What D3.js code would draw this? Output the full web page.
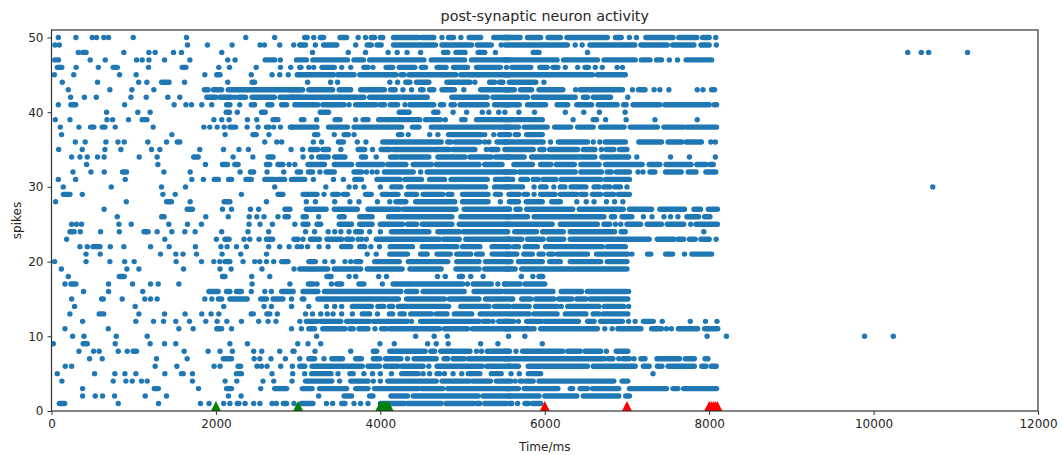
<!DOCTYPE html>
<html>
<head>
<meta charset="utf-8">
<script src="https://cdn.jsdelivr.net/npm/d3@7"></script>
<style>
  html, body { margin: 0; padding: 0; background: #fff; }
  svg { display: block; }
  text { font-family: "DejaVu Sans", sans-serif; fill: #262626; }
</style>
</head>
<body>
<svg id="svg" width="1062" height="455"></svg>
<script>
const w = 1062;
const h = 455;
const margin = { left: 51.5, right: 24, top: 30, bottom: 44 };

const xTicks = [0, 2000, 4000, 6000, 8000, 10000, 12000];
const yTicks = [0, 10, 20, 30, 40, 50];

const excitatoryTimes = [2000, 3000, 4000, 4025, 4050, 4075, 4100];
const inhibitoryTimes = [6000, 7000, 8000, 8025, 8050, 8075, 8100];

// Spike times per neuron.
// A number is one spike, a [start, end] pair is a run of merged spikes.
const n1 = [[95,160],812,1302,1812,1917,2095,2170,[2260,2280],2355,2460,2535,2683,2735,[2820,2860],2950,[3040,3180],3345,3420,[3530,3570],3680,3760,3850,[4000,4290],[4330,4740],[4800,5130],[5170,5210],[5270,5530],[5570,5600],5670,[5760,5800],[5850,5950]];
const n2 = [378,532,621,767,1140,1399,2152,2306,3250,[3560,3650],[3870,3910],[4130,4330],[4400,5190],[5250,5570],[5570,5930],[6000,6390],[6470,6900],[6985,7030]];
const n3 = [378,[1250,1300],1788,[2130,2190],2545,[2715,2860],[3050,3170],[3260,3590],[3700,3850],[3930,4460],[4500,4760],[4820,5570],[5530,5680],[5750,6160],[6310,6340],[6430,6520],[6580,6900],[7030,7480],[7560,7620],[7690,8090]];
const n4 = [127,751,905,982,1095,1164,1715,2112,2254,2573,2703,2926,[3090,3410],3505,[3640,3850],3915,4000,[4090,4680],[4750,5080],[5120,5340],[5410,5590],5640,[5700,5730],[5770,5860],[5930,6840],[6940,7010]];
const n5 = [70,524,771,893,1026,1379,[1581,1602],1715,[2250,2310],2683,2934,3080,[3165,3400],3485,[3630,3670],3800,3905,4000,4135,[4260,4460],4520,4600,[4690,4720],4780,4885,4990,[5070,5210],[5350,5470],5590,5690,[5800,5950],7317];
const n6 = [168,245,1261,1525,1978,2051,[2270,2300],2500,2555,2622,2788,2930,[3020,3080],[3170,3570],[3600,3780],[3850,3990],[4060,4215],[4260,4520],4590,[4690,5240],[5295,5570],[5560,5680],[5800,6520],[6590,7100],[7200,7270],[7370,7425],[7500,7820],[7910,7960],[8025,8085]];
const n7 = [463,617,1277,1650,[2090,2190],2465,2535,2670,2845,3020,[3130,3200],3315,[3410,3540],[3700,3770],[3915,3995],[4065,4250],4330,[4410,4680],[4775,4820],[4885,5020],[5070,5570],[5515,6725],[6770,6830],6900,[6950,7030],7085,[7170,7220],[7365,7640],[7710,7820],[7950,7985]];
const n8 = [334,512,580,812,921,[994,1034],1614,1905,2051,2200,2460,2557,2776,2938,2950,3205,3640,[3915,3955],[4115,4545],[4615,4660],[4735,5090],5170,5230,[5300,5570],[5515,5560],5650,[5730,6220],[6280,6430],[6490,6680],6750,[6870,7010]];
const n9 = [22,[385,435],775,1200,1375,1512,2170,2383,2995,3120,3275,3995,4170,4575,4680,4825,5220,5430,5970];
const n10 = [257,395,788,1164,3225,4430,4655,4815,5560,5758,7975,8210,9890,10240];
const n11 = [164,690,1549,1723,[2010,2070],2190,2920,3040,[3130,3200],[3300,3570],[3630,3670],[3740,3850],3935,[4015,4070],[4115,4720],[4780,5060],[5120,5570],[5515,5870],[5950,6640],6730,6820,[6890,7170],[7300,7420],7480,7540,[7625,7860],[7945,8105]];
const n12 = [378,1026,1241,1363,1512,1678,1877,2015,2133,2310,2520,2635,2730,3020,[3100,3230],[3270,3520],[3590,3870],[3920,4330],4380,[4490,5200],[5250,5320],5370,[5440,5570],[5515,5620],5680,[5780,5960],[6000,6410],[6520,6600],[6680,6945],7020,7100,[7200,7320],7430,7770,7955,8095];
const n13 = [224,[580,635],1063,1375,1625,1828,1941,2035,[2430,2455],[2620,2655],2747,3090,3175,3275,3355,3425,3530,3660,[3780,3870],3965,[4110,4150],[4240,4290],[4370,4620],[4680,4810],[4900,5110],[5215,5570],[5590,5810],[5870,6150],[6250,6500],[6590,6660],[6710,7010]];
const n14 = [281,1018,2095,2585,2675,2920,3130,3345,3445,3530,[3660,3890],3970,[4000,4040],[4110,4150],[4220,4830],[4980,5320],[5390,5570],[5620,5810],[5890,6150],6200,[6280,6660],[6725,6960],7020];
const n15 = [245,[610,630],860,1135,1205,1285,1865,1950,[2030,2070],[2170,2380],[2545,2615],[2695,2815],2920,[3050,3070],[3240,4220],[4320,4780],[4840,5200],[5280,5530],[5560,5610],[5720,5830],[5890,6110],[6170,6330],[6390,6500],[6550,7010]];
const n16 = [390,694,1110,[1915,2027],[2130,2170],[2250,2310],2430,2595,2675,[2800,2940],[3060,3240],[3320,4250],[4320,4440],[4520,5020],[5140,5470],[5515,6100],[6200,6450],[6520,6990],7020];
const n17 = [164,[237,297],694,986,1205,1298,1549,2440,2900,[3125,3185],3230,3405,[3470,3530],[3740,3800],4025,[4155,4400],[4430,5000],5060,[5130,5350],5430,5510,[5515,5700],[5760,6000]];
const n18 = [205,[825,885],[2080,2110],2435,2655,[3350,3400],3620,3700,3980,4075,4695,4790,[4960,5000],5100,5250,5715,5855,[5930,5975]];
const n19 = [120,917,1063,1606,2050,2185,2560,2950,[3020,3360],[3440,3760],[3840,4265],[4360,4740],[4920,5200],[5270,5570],[5530,5640],[5720,7000]];
const n20 = [38,420,710,890,1006,1516,1824,1974,2047,[2110,2170],2330,2472,2533,2615,2703,[2800,2877],[3130,3210],3325,3425,3570,3640,[3700,3760],[3930,4230],[4340,4820],[4930,5200],[5280,5570],[5530,5590],[5680,5970],[6060,6190],[6310,6680],[6760,7000]];
const n21 = [420,593,1326,1512,1600,1764,2075,2302,2615,3840,3950,[4115,4330],[4490,4570],[4690,4850],[4930,5100],[5170,5240],[5360,5570],[5530,5660],[5745,5850],[5930,5980],[6050,6100],[6150,6520],[6630,7010],7060,[7250,7290],[7470,7555],7700,[7790,8030]];
const n22 = [346,435,[505,590],715,880,1205,1431,1751,2060,2136,2250,2370,2642,2776,2890,2990,3040,3115,3255,3365,[3530,3640],[3750,3810],3885,3990,[4120,4390],[4510,4930],[5000,5210],[5360,5570],5540,[5625,5680],[5760,5910],[6010,6700],[6760,6980]];
const n23 = [184,1378,2006,[2110,2160],2342,2412,2525,[2615,2690],[2950,3000],3060,[3150,3260],[3350,3510],3530,[3590,3630],3660,3730,3770,3830,[3950,4720],[4770,4960],[5040,5570],[5530,5720],[5790,5980],[6050,6230],[6310,7270],[7370,7570],[7620,7690],[7760,7830],[7900,8000],8085];
const n24 = [[225,275],350,597,825,[1125,1175],1285,1464,1622,1747,2070,2390,2642,3090,3200,3365,3445,3520,3620,[3700,3770],3870,4000,[4135,4590],[4700,4960],[5010,5370],[5390,5500],[5515,5550],[5635,5900],[5975,6225],[6310,6850],[6930,6980],7935];
const n25 = [245,305,366,820,970,1427,1654,1824,2403,2537,2687,2960,[3060,3120],[3230,3275],[3500,3650],[3750,3900],[4000,4270],[4330,4440],[4510,4870],[4960,5570],[5530,6090],[6190,6640],[6720,6790],6860,6925,[7000,7165],[7245,7420],[7490,7690],7775,[7840,8100]];
const n26 = [800,[1340,1370],1877,2150,2405,2497,2585,2755,[2840,2880],[3060,3100],3250,[3500,3560],[3750,3900],[4100,4870],[4980,5570],[5530,5790],[5870,6720],[6810,6850],[6940,7060],7200,7305,7450,7530,7620,[7730,7870],[7945,8010]];
const n27 = [640,[1650,1715],2080,2190,2420,2520,[2840,2900],[3100,3340],[3440,3720],[3850,4230],[4280,4920],[5020,5570],[5515,5570],[5650,5700],[5780,6340],[6420,6955],[7030,7300],[7400,7700],[7815,7895],[7990,8100]];
const n28 = [50,910,[1400,1460],1687,[2100,2170],2615,3100,3210,3445,3630,3740,3965,4115,[4190,4310],[4430,4905],[5000,5310],5460,[5570,5680],[5775,5970],[6085,6190],6390,6505,6600,6750,6850,6950];
const n29 = [[145,225],375,1355,1505,2310,[2755,2815],[3060,3230],3315,[3420,3490],[3550,3600],[3820,3890],[4025,4095],[4135,4215],[4320,4440],[4520,4760],[4820,4870],[5000,5310],[5400,5460],[5565,5690],[5750,5790],5870,[5950,6125],[6190,6390],[6440,6500],[6580,6680],[6740,6840],[6895,7030]];
const n30 = [143,727,1338,1630,2715,3337,3620,3695,3800,4000,[4140,4250],[4340,5280],[5390,5570],[5530,5730],5870,[5950,6015],6110,[6190,6245],[6320,6500],[6600,6660],[6720,6790],[6850,6920],7000,10720];
const n31 = [83,293,897,1707,1848,[1980,2030],[2155,2190],[2365,2430],[2595,2715],[2755,2835],2920,[2940,3080],3185,3430,3550,[3690,3770],[3960,4240],[4300,4500],[4600,4780],[4860,5300],[5400,5570],[5515,5610],[5710,5790],[5860,5920],[5980,6135],[6200,6680],[6740,7030]];
const n32 = [261,480,642,[865,913],1367,1687,2294,[2420,2460],2622,2825,[2990,3030],[3125,3175],3265,[3340,3440],[3680,3770],3830,3900,3960,[4050,4400],4490,[4570,5570],[5515,5640],[5690,6370],[6440,6690],[6760,6810],[6870,7030],7135,7195,[7280,7340],[7470,7660],[7745,7840],[7960,8080]];
const n33 = [427,1294,1873,[2080,2140],[2230,2270],[2615,2655],[2755,2815],2890,2960,[3120,3320],[3440,3650],[3730,4030],[4090,4310],[4400,4620],[4680,5200],[5270,5480],[5625,5850],[5950,6075],[6140,6360],[6440,6660],[6740,7185],[7270,7400],[7475,7780],[7850,7960],[8010,8050]];
const n34 = [245,346,435,560,640,1067,1285,[1730,1784],2209,2450,[2635,2695],3060,3165,[3250,3365],[3445,3570],[3770,3820],3950,[4125,4215],[4250,4590],[4700,5030],[5090,5350],[5400,5570],[5530,5750],[5840,6610],[6695,7020],7120,7530,7760,8075];
const n35 = [87,374,650,844,1217,1318,1804,2092,2280,2395,2914,3055,[3150,3240],[3300,3370],3520,[3730,3810],3905,[4010,4120],[4160,4620],[4650,4840],[4885,5150],5290,[5340,5430],[5515,5860],[5940,5990],[6060,6400],[6470,6610],6690,[6750,6840],[6910,7000]];
const n36 = [290,410,662,808,885,1172,1400,[1530,1560],2594,2740,2800,3185,3285,[3490,3550],3720,3825,[4030,4740],[4820,4860],[4910,5210],5270,5320,[5420,5530],[5515,5980],6070,[6165,6520],6590,6670,[6735,6980],[7145,7285],[7310,7420],[7500,7665],[7720,7905],8020,8075];
const n37 = [123,1464,2112,[2450,2490],2645,[3200,3240],3440,[3560,3610],3680,[4220,4260],4340,4600,4700,[4830,5230],5270,5380,[5450,5570],5570,[5640,5680],[5780,5970]];
const n38 = [107,334,[475,515],[617,650],775,1237,1853,1925,2015,2100,[2170,2240],2380,2513,[2615,2645],2703,2785,2920,[2905,3230],[3370,3600],[3680,4260],[4390,4470],[4620,5570],[5515,5680],[5750,6030],[6120,6315],[6400,6590],[6680,6965],[7040,7370],[7450,7690],[7730,8090]];
const n39 = [46,225,675,743,937,[1103,1160],1975,2071,2160,2383,2497,[2695,2755],[3040,3070],3225,[3450,3510],3700,[3790,3850],[3980,4090],[4110,4480],[4550,4730],4790,[4990,5030],[5170,5570],[5515,5970],6345,[6590,6630],6740,6990,7340,7855];
const n40 = [670,1050,1200,[2125,2165],2260,[2555,2600],[3270,3370],[4230,4350],[4650,4700],4885,5050,5240,5320,5440,5515,5685,5875,6250,6475,6665,6977];
const n41 = [83,[236,294],889,1492,1635,1703,1828,1950,[2130,2170],2290,[2430,2470],[2630,2680],[2800,2860],[2960,3240],[3300,3560],3620,[3700,3950],[4000,4050],[4120,4210],4300,[4360,4650],[4730,4770],[4860,4900],[4970,5300],[5390,5570],[5515,5690],[5790,6010],[6150,6280],[6390,6570],[6650,6880],[6960,6990],[7075,7400],[7460,8000],[8060,8090]];
const n42 = [233,400,545,966,1152,1415,1561,[1890,2000],[2050,2190],2230,[2280,2360],[2440,2710],[2780,3020],[2910,3500],[3500,3800],[3870,4570],[4870,5185],[5200,5300],[5370,5570],[5600,5790],[5860,6370],[6470,6520],[6590,6800],7010];
const n43 = [204,710,978,1245,[1860,1905],[1970,2070],[2150,3020],[2900,3055],[3130,3420],[3500,3640],[3760,4050],[4125,4180],4275,4380,[4490,4520],[4600,4650],[4750,4900],5015,[5220,5570],[5515,5630],[5705,5840],[5930,6220],6375,[6430,6945],7067,[7140,7220],7330,7400,7510,7855,7925,[8030,8065]];
const n44 = [131,560,1060,1160,[1340,1430],1618,2144,[2440,2470],3115,3395,3480,4115,4210,[4310,4360],[4440,4590],[4810,5090],5150,[5330,5390],[5450,5490],[5570,5890],5990];
const n45 = [35,270,828,1030,1865,[2010,2050],2430,2683,2776,2880,2990,[3000,3430],[3480,3680],[3750,4190],[4250,4290],[4350,4920],[4980,5570],[5515,6580],[6640,6980]];
const n46 = [[70,125],300,570,[750,800],1180,[1590,1635],2035,2165,2490,2785,2910,3020,3035,3130,3190,[3290,3440],3530,3640,[3800,3850],3910,[4070,4150],[4230,4420],[4500,4550],[4690,4800],[4890,5060],[5170,5460],5535,[5600,5830],[5940,6030],[6100,6160],6250,6400,[6490,6530],6615,6700,6880,6945];
const n47 = [[40,85],471,654,1035,1103,1185,1375,1683,2144,2233,[2600,2715],2784,[2980,3100],[3180,3600],[3680,3795],[3870,4530],[4620,5025],[5110,5570],[5515,6150],[6230,6640],[6720,7100],[7175,7280],[7360,7420],7515,7615,[7720,8030]];
const n48 = [326,[380,420],880,1185,1261,1484,1581,2071,3175,3610,3820,4095,4205,4325,4490,[4770,4820],[4920,5030],[5190,5270],5400,[5860,5930],6520,10415,10580,10670,11143];
const n49 = [42,95,1654,1897,2197,2537,2590,2776,2946,3020,[3040,3090],3210,[3310,3470],3700,[3840,3890],[3960,4010],[4160,4670],[4750,5110],[5180,5350],5470,[5520,6275],6370,6455,[6550,7095],[7170,7490],[7555,7815],[7900,8000],8087];
const n50 = [83,297,496,548,637,694,994,1642,2363,2715,[3080,3110],3190,[3270,3310],[3510,3590],3730,3820,[3890,3930],[4000,4030],[4160,4460],[4500,4650],4750,[4830,4890],4980,[5080,5220],[5380,5570],[5515,5700],[5790,5950],[6040,6190],[6270,6760],[6860,6930],7030,7115,[7230,7560],[7630,7830],7850,[7920,8000],8080];

const neurons = [[], n1, n2, n3, n4, n5, n6, n7, n8, n9, n10, n11, n12, n13, n14, n15, n16, n17, n18, n19, n20, n21, n22, n23, n24, n25, n26, n27, n28, n29, n30, n31, n32, n33, n34, n35, n36, n37, n38, n39, n40, n41, n42, n43, n44, n45, n46, n47, n48, n49, n50];

let svg = d3.select("#svg");

let xScale = d3.scaleLinear([0, 12000], [margin.left, w - margin.right]);
let yScale = d3.scaleLinear([0, 51], [h - margin.bottom, margin.top]);

// Clip path, the stim markers are cut off by the x axis
svg
  .append("clipPath")
  .attr("id", "chart-area")
  .append("rect")
  .attr("x", margin.left)
  .attr("y", margin.top)
  .attr("width", w - margin.left - margin.right)
  .attr("height", h - margin.top - margin.bottom);

const dotColor = "#1f77b4";
const dotSize = 5.4;

let plot = svg.append("g").attr("clip-path", "url(#chart-area)");

let singles = [];
let runs = [];
neurons.forEach((row, id) => {
  row.forEach((d) => {
    if (Array.isArray(d)) runs.push({ id, start: d[0], end: d[1] });
    else singles.push({ id, t: d });
  });
});

plot
  .selectAll("line.run")
  .data(runs)
  .join("line")
  .attr("class", "run")
  .attr("x1", (d) => xScale(d.start))
  .attr("x2", (d) => xScale(d.end))
  .attr("y1", (d) => yScale(d.id))
  .attr("y2", (d) => yScale(d.id))
  .attr("stroke", dotColor)
  .attr("stroke-width", dotSize)
  .attr("stroke-linecap", "round");

plot
  .selectAll("circle.spike")
  .data(singles)
  .join("circle")
  .attr("class", "spike")
  .attr("cx", (d) => xScale(d.t))
  .attr("cy", (d) => yScale(d.id))
  .attr("r", dotSize / 2)
  .attr("fill", dotColor);

// Stim markers
const triangle = "M0,-10L10,10L-10,10Z";

function drawMarkers(times, color) {
  plot
    .append("g")
    .selectAll("path")
    .data(times)
    .join("path")
    .attr("d", triangle)
    .attr("transform", (d) => `translate(${xScale(d)},${yScale(0)})`)
    .attr("fill", color);
}
drawMarkers(excitatoryTimes, "green");
drawMarkers(inhibitoryTimes, "red");

// Axes
let xAxis = svg
  .append("g")
  .attr("transform", `translate(0,${h - margin.bottom})`)
  .call(d3.axisBottom(xScale).tickValues(xTicks).tickFormat(d3.format("d")).tickSize(4).tickPadding(4));

let yAxis = svg
  .append("g")
  .attr("transform", `translate(${margin.left},0)`)
  .call(d3.axisLeft(yScale).tickValues(yTicks).tickSize(4).tickPadding(4));

[xAxis, yAxis].forEach((axis) => {
  axis.selectAll("text").style("font-size", "12px").style("font-family", '"DejaVu Sans", sans-serif').attr("fill", "#262626");
  axis.selectAll("line").attr("stroke", "#333");
});
xAxis.select(".domain").remove();
yAxis.select(".domain").remove();

svg
  .append("rect")
  .attr("x", margin.left)
  .attr("y", margin.top)
  .attr("width", w - margin.left - margin.right)
  .attr("height", h - margin.top - margin.bottom)
  .attr("fill", "none")
  .attr("stroke", "#333")
  .attr("stroke-width", 1.2);

svg
  .append("text")
  .attr("x", (margin.left + w - margin.right) / 2)
  .attr("y", 21)
  .attr("text-anchor", "middle")
  .style("font-size", "14.3px")
  .text("post-synaptic neuron activity");

svg
  .append("text")
  .attr("x", (margin.left + w - margin.right) / 2)
  .attr("y", 451)
  .attr("text-anchor", "middle")
  .style("font-size", "12px")
  .text("Time/ms");

svg
  .append("text")
  .attr("transform", `translate(21,${(margin.top + h - margin.bottom) / 2}) rotate(-90)`)
  .attr("text-anchor", "middle")
  .style("font-size", "12px")
  .text("spikes");
</script>
</body>
</html>
